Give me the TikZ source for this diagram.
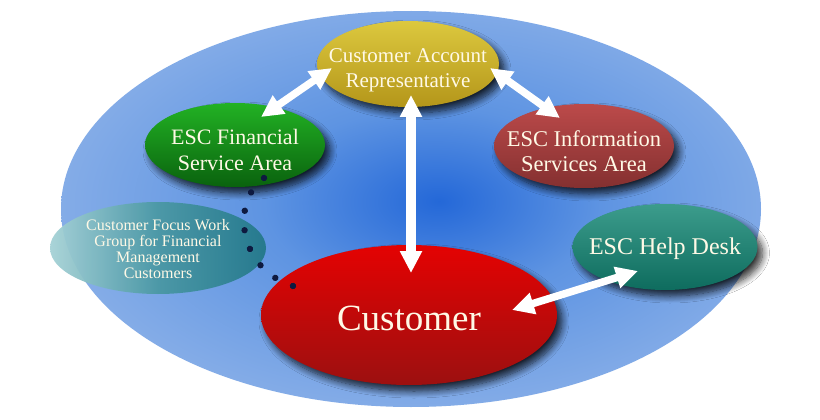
\documentclass[tikz,border=0pt]{standalone}
\usepackage{fontspec}
\setmainfont{Liberation Serif}
\usetikzlibrary{shapes.geometric,arrows.meta,shadows.blur,decorations.markings}
\definecolor{bgblue}{HTML}{8FB3E9}
\definecolor{midblue}{HTML}{5E94E2}
\definecolor{glow}{HTML}{2468D8}
\definecolor{txt}{HTML}{FFF9E6}
\definecolor{goldT}{HTML}{DCC83E}
\definecolor{goldB}{HTML}{B4961A}
\definecolor{greenT}{HTML}{22B224}
\definecolor{greenB}{HTML}{0A620E}
\definecolor{maroonT}{HTML}{BC4A4A}
\definecolor{maroonB}{HTML}{843030}
\definecolor{helpT}{HTML}{3C9C8C}
\definecolor{helpB}{HTML}{0E6C5E}
\definecolor{redT}{HTML}{E40202}
\definecolor{redB}{HTML}{9C1010}
\definecolor{focL}{HTML}{A6D2D6}
\definecolor{focM}{HTML}{4A98A4}
\definecolor{focR}{HTML}{23788A}
\definecolor{dotcol}{HTML}{0E1A40}
\pgfdeclareradialshading{bigglow}{\pgfpoint{2bp}{1bp}}{color(0bp)=(glow); color(12bp)=(midblue); color(30bp)=(bgblue); color(50bp)=(bgblue)}
\newcommand{\lift}[1]{\rule{0pt}{#1pt}}
\begin{document}
\begin{tikzpicture}[x=1pt,y=-1pt,
  blob/.style={ellipse, inner sep=0pt,
    blur shadow={shadow xshift=5pt, shadow yshift=-6pt, shadow blur steps=10,
      shadow opacity=80, shadow blur radius=7pt}},
  lbl/.style={inner sep=0pt, text=txt, align=center},
  dbl/.style={draw=white, line width=7.5pt,
    {Triangle[width=21pt,length=22pt]}-{Triangle[width=21pt,length=22pt]}},
  dotline/.style={postaction={decorate}, decoration={markings,
    mark=between positions 0 and 1 step 0.1428 with {\fill[dotcol] circle (3.2pt);}}}
]
\useasboundingbox (0,0) rectangle (820,420);
\fill[white] (0,0) rectangle (820,420);
% big background ellipse
\path[shading=bigglow] (411,209) ellipse [x radius=350, y radius=198];

% shapes
\node[ellipse, inner sep=0pt, minimum width=216pt, minimum height=92pt,
  shading=axis, left color=focL, right color=focR, middle color=focM, opacity=0.95]
  (focus) at (158,248) {};
\node[blob, minimum width=182pt, minimum height=86pt, top color=goldT, bottom color=goldB]
  (car) at (408,64) {};
\node[blob, minimum width=180pt, minimum height=84pt, top color=greenT, bottom color=greenB]
  (fin) at (235,145) {};
\node[blob, minimum width=180pt, minimum height=84pt, top color=maroonT, bottom color=maroonB]
  (info) at (584,146) {};
\node[blob, minimum width=185pt, minimum height=86pt, top color=helpT, bottom color=helpB]
  (help) at (665,247) {};
\node[blob, minimum width=296pt, minimum height=140pt, top color=redT, bottom color=redB]
  (cust) at (409,315) {};

% texts
\node[lbl, font=\fontsize{16}{16}\selectfont] (focusT) at (focus)
  {\lift{13}Customer Focus Work\\Group for Financial\\Management\\Customers};
\node[lbl, font=\fontsize{21}{25}\selectfont] (carT) at (car)
  {\lift{26}Customer Account\\Representative};
\node[lbl, font=\fontsize{22}{26}\selectfont] (finT) at (fin)
  {\lift{26}ESC Financial\\Service Area};
\node[lbl, font=\fontsize{22.5}{25.5}\selectfont] (infoT) at (info)
  {\lift{26}ESC Information\\Services Area};
\node[lbl, font=\fontsize{24}{28}\selectfont] (helpT) at (help)
  {\lift{20}ESC Help Desk};
\node[lbl, font=\fontsize{37}{40}\selectfont] (custT) at (cust)
  {\lift{31}Customer};

% arrow end points
\coordinate (a1) at (332,68);
\coordinate (b1) at (261,117);
\coordinate (a2) at (490,68);
\coordinate (b2) at (560,118);
\coordinate (a3) at (411,95);
\coordinate (b3) at (411,273);
\coordinate (a4) at (512,310);
\coordinate (b4) at (638,271);
\draw[dbl] (a1) -- (b1);
\draw[dbl] (a2) -- (b2);
\draw[dbl, line width=9.5pt] (a3) -- (b3);
\draw[dbl] (a4) -- (b4);

% dotted link
\coordinate (d1) at (264,178);
\coordinate (d2) at (293,286);
\path[dotline] (d1) .. controls (232,200) and (236,268) .. (d2);
\end{tikzpicture}
\end{document}
